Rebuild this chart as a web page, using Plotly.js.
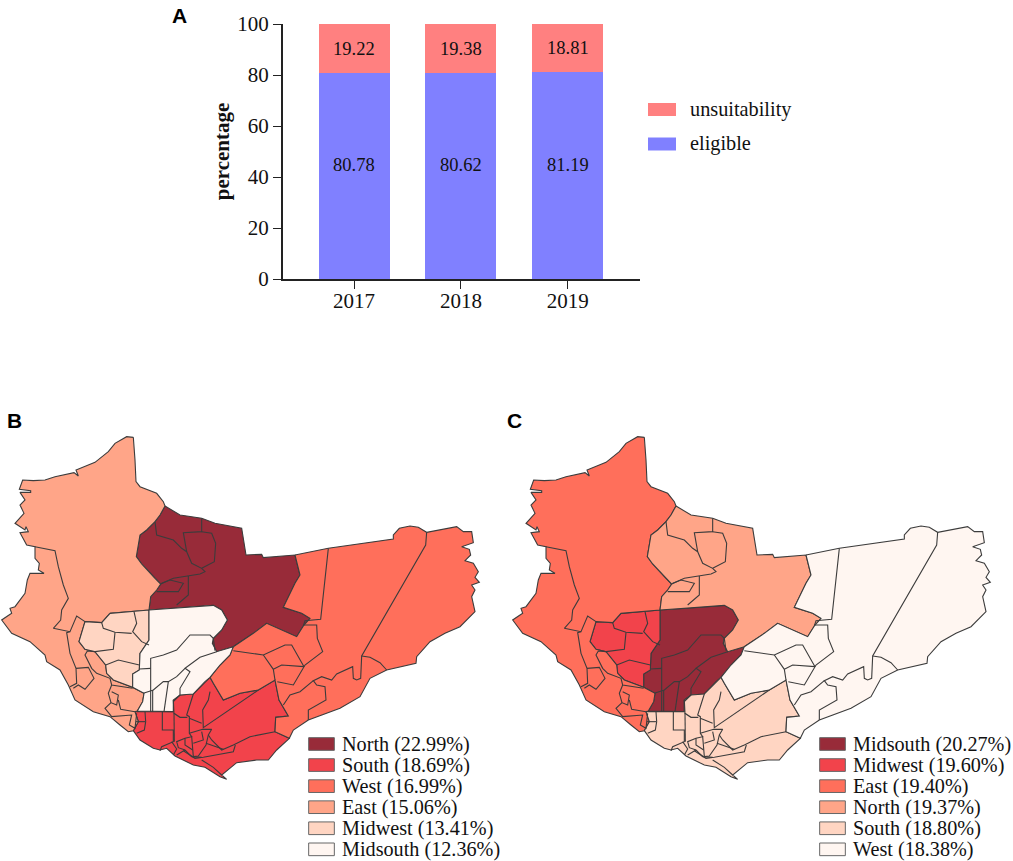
<!DOCTYPE html>
<html><head><meta charset="utf-8">
<script src="https://cdn.plot.ly/plotly-3.0.1.min.js"></script>
<style>html,body{margin:0;padding:0;background:#fff}</style></head>
<body><div id="chart" style="width:1013px;height:861px"></div>
<script>
// Panel A values
const years = ['2017','2018','2019'];
const eligible = [80.78,80.62,81.19];
const unsuitability = [19.22,19.38,18.81];

// Panels B, C labels, read from their legends
const labelsB = ['North (22.99%)','South (18.69%)','West (16.99%)','East (15.06%)','Midwest (13.41%)','Midsouth (12.36%)'];
const labelsC = ['Midsouth (20.27%)','Midwest (19.60%)','East (19.40%)','North (19.37%)','South (18.80%)','West (18.38%)'];
const ramp = ['#982B39','#F2434B','#FF6F5B','#FFA588','#FFD5C2','#FFF6F1'];
const orderB = ['north','south','west','east','midwest','midsouth'];
const orderC = ['midsouth','midwest','east','north','south','west'];

// Map outlines (traced map units)
const eastOutline = [[400,52],[380,50],[345,70],[325,95],[285,127],[228,150],[235,168],[222,158],[165,170],[135,180],[100,182],[68,180],[58,208],[92,212],[92,217],[60,217],[75,240],[60,255],[72,280],[62,290],[45,310],[75,330],[78,320],[85,335],[60,338],[80,375],[105,380],[105,415],[118,430],[115,450],[132,460],[90,460],[82,480],[75,520],[60,540],[45,560],[30,565],[35,580],[5,600],[35,640],[90,665],[135,705],[140,725],[180,750],[205,795],[225,840],[280,875],[330,890],[360,915],[385,935],[400,932],[415,905],[405,875],[412,873],[428,845],[432,820],[398,802],[340,780],[320,760],[317,735],[285,695],[255,688],[237,665],[255,605],[305,608],[330,580],[447,570],[452,530],[470,510],[482,492],[465,475],[440,450],[425,432],[409,410],[415,375],[420,345],[440,330],[465,305],[480,285],[495,258],[490,245],[470,220],[420,200],[408,185],[405,120]];
const northOutline = [[495,258],[540,285],[605,295],[645,310],[725,325],[738,405],[785,403],[790,413],[885,405],[900,465],[885,490],[850,562],[905,580],[930,595],[910,618],[890,650],[800,610],[760,640],[700,680],[650,695],[637,670],[640,655],[665,630],[682,600],[665,570],[640,556],[520,565],[447,570],[452,530],[470,510],[482,492],[465,475],[440,450],[425,432],[409,410],[415,375],[420,345],[440,330],[465,305],[480,285]];
const midwestOutline = [[330,580],[447,570],[447,660],[420,700],[418,750],[398,762],[398,802],[340,780],[320,760],[317,735],[285,695],[255,688],[237,665],[255,605],[305,608]];
const midsouthOutline = [[447,570],[520,565],[640,556],[665,570],[682,600],[665,630],[640,655],[637,670],[650,695],[700,680],[690,705],[660,735],[630,772],[615,785],[580,822],[540,825],[520,840],[520,875],[412,873],[428,845],[432,820],[398,802],[398,762],[418,750],[420,700],[447,660]];
const southOutline = [[405,875],[520,875],[520,840],[540,825],[580,822],[615,785],[630,772],[640,790],[670,840],[720,820],[775,810],[825,780],[837,840],[865,888],[827,892],[825,935],[868,955],[830,990],[805,1020],[770,1020],[710,1028],[665,1065],[680,1078],[660,1070],[615,1042],[580,1035],[525,1008],[500,985],[480,990],[460,985],[420,960],[400,932],[415,905]];
const westOutline = [[885,405],[985,385],[1180,357],[1180,345],[1198,325],[1230,318],[1255,322],[1280,337],[1370,320],[1390,335],[1415,335],[1420,368],[1385,380],[1408,388],[1412,405],[1395,422],[1420,430],[1435,455],[1425,472],[1438,487],[1415,495],[1425,510],[1415,530],[1425,575],[1380,620],[1335,640],[1290,665],[1250,710],[1248,730],[1160,750],[1110,775],[1095,805],[1080,830],[1020,865],[925,900],[880,930],[868,955],[825,935],[827,892],[865,888],[837,840],[825,780],[775,810],[720,820],[670,840],[640,790],[630,772],[660,735],[690,705],[700,680],[760,640],[800,610],[890,650],[910,618],[930,595],[905,580],[850,562],[885,490],[900,465]];

// Inner district borders (traced map units)
const eastInner = [
 [[105,380],[165,392],[175,440],[190,495],[205,535],[185,570],[182,600],[160,625],[210,635],[230,588],[255,605]],
 [[210,635],[200,638],[210,700],[228,745],[230,790],[210,800]],
 [[228,745],[265,742],[282,775],[255,808],[235,795],[220,805]],
 [[285,695],[262,693],[255,705],[275,745],[290,760],[330,775],[335,795],[398,805]],
 [[335,795],[325,820],[333,848],[350,855],[355,825],[335,815]],
 [[333,848],[315,865],[335,890],[395,885],[388,915],[405,925],[410,880]],
 [[355,840],[362,868],[405,875]]
];
const northInner = [
 [[465,305],[470,345],[520,360],[545,385],[560,395],[575,430],[605,445],[615,455],[600,462],[565,468],[520,475],[482,492]],
 [[605,295],[605,335],[550,338],[560,395]],
 [[605,335],[635,340],[647,370],[643,425],[605,445]],
 [[565,468],[565,525],[530,555]],
 [[485,490],[510,480],[550,490],[535,515],[470,515]]
];
const midwestInner = [
 [[402,575],[410,610],[398,635],[425,665],[447,675]],
 [[305,608],[310,625],[345,637],[395,640]],
 [[345,637],[340,688],[285,695]],
 [[317,735],[355,720],[418,735]]
];
const midsouthInner = [
 [[645,692],[640,655],[630,645],[570,645],[530,690],[490,705],[452,715],[452,875]],
 [[418,747],[452,745]],
 [[650,695],[600,712],[555,745],[570,755],[540,805],[540,825],[520,845]],
 [[555,745],[530,770],[505,785],[490,785],[460,810],[430,820]],
 [[505,785],[492,875]],
 [[458,810],[458,875]]
];
const southInner = [
 [[435,875],[437,905],[433,930],[410,940]],
 [[408,905],[435,905]],
 [[487,875],[487,930],[520,930],[520,965],[485,980],[480,992]],
 [[520,840],[522,880],[540,892],[562,892]],
 [[522,880],[523,965]],
 [[580,822],[560,885],[568,890],[568,940],[575,950],[555,955],[530,965],[535,983],[555,990],[575,1010],[605,1012]],
 [[630,815],[625,840],[608,870],[608,905],[610,925]],
 [[568,895],[605,910]],
 [[610,923],[775,810]],
 [[568,940],[608,928],[635,928],[625,945],[618,975],[595,1008],[580,1010],[578,985],[575,950]],
 [[605,935],[610,960],[580,970]],
 [[555,955],[555,975],[578,990]],
 [[625,945],[635,960],[665,990],[700,975],[750,950],[825,935]],
 [[618,970],[670,988]],
 [[706,975],[700,995],[610,1012],[585,1015],[550,992]],
 [[605,1020],[640,1042],[665,1065]],
 [[530,1005],[555,990]],
 [[515,965],[530,987],[520,1005]]
];
const westInner = [
 [[985,385],[962,598],[915,602],[910,618]],
 [[1280,337],[1277,375],[1085,708],[1082,775],[1070,780],[1060,775],[1058,740],[1010,762],[995,780],[965,770],[940,782],[950,795],[975,800],[978,840],[925,870],[925,900]],
 [[1085,708],[1110,712],[1140,728],[1160,750]],
 [[940,782],[900,815],[870,825],[850,855]],
 [[910,615],[950,615],[952,655],[968,695],[915,735],[880,795],[832,785]],
 [[700,692],[790,705],[855,675],[875,675],[912,740],[845,735],[820,748]],
 [[790,705],[820,748],[825,780]]
];

const regions = {
 east:{outline:eastOutline,inner:eastInner},
 north:{outline:northOutline,inner:northInner},
 midwest:{outline:midwestOutline,inner:midwestInner},
 midsouth:{outline:midsouthOutline,inner:midsouthInner},
 south:{outline:southOutline,inner:southInner},
 west:{outline:westOutline,inner:westInner}
};
const serif = 'Liberation Serif, Times New Roman, serif';
const sans = 'Liberation Sans, Arial, sans-serif';
const W = 1013, H = 861;
const edge = '#3c3c3c';

const traces = [
 {type:'bar',name:'eligible',x:years,y:eligible,width:0.664,marker:{color:'#8080FF',line:{width:0}},hoverinfo:'x+y'},
 {type:'bar',name:'unsuitability',x:years,y:unsuitability,width:0.664,marker:{color:'#FF8080',line:{width:0}},hoverinfo:'x+y'}
];
const shapes = [], annotations = [];

function panel(order, labels, xa, ya){
  order.forEach((key,i)=>{
    const r = regions[key];
    const pts = r.outline.concat([r.outline[0]]);
    traces.push({type:'scatter',mode:'lines',name:labels[i],xaxis:xa,yaxis:ya,
      x:pts.map(p=>p[0]),y:pts.map(p=>p[1]),fill:'toself',fillcolor:ramp[i],
      line:{color:edge,width:1.1},hoverinfo:'name',showlegend:false});
  });
  order.forEach((key,i)=>{
    const xs=[],ys=[];
    regions[key].inner.forEach(l=>{l.forEach(p=>{xs.push(p[0]);ys.push(p[1]);});xs.push(null);ys.push(null);});
    traces.push({type:'scatter',mode:'lines',xaxis:xa,yaxis:ya,x:xs,y:ys,
      line:{color:edge,width:1.1},hoverinfo:'skip',showlegend:false});
  });
  labels.forEach((t,i)=>{
    const yc = 972+63.2*i;
    shapes.push({type:'rect',xref:xa,yref:ya,x0:926,x1:1003,y0:yc-19,y1:yc+19,fillcolor:ramp[i],line:{color:'#666',width:1}});
    annotations.push({xref:xa,yref:ya,x:1021,y:yc,text:t,showarrow:false,xanchor:'left',yanchor:'middle',font:{family:serif,size:20.2,color:'#111'}});
  });
}
panel(orderB,labelsB,'x2','y2');
panel(orderC,labelsC,'x3','y3');

// Panel A value labels
years.forEach((yr,i)=>{
  annotations.push({xref:'x',yref:'y',x:i,y:eligible[i]+unsuitability[i]/2,text:unsuitability[i].toFixed(2),showarrow:false,font:{family:serif,size:18.5,color:'#111'}});
  annotations.push({xref:'x',yref:'y',x:i,y:44.7,text:eligible[i].toFixed(2),showarrow:false,font:{family:serif,size:18.5,color:'#111'}});
});
// Panel A legend
[['unsuitability','#FF8080',109.5],['eligible','#8080FF',144]].forEach(([t,c,py])=>{
  shapes.push({type:'rect',xref:'paper',yref:'paper',x0:648/W,x1:676/W,y0:1-(py-6.5)/H,y1:1-(py+6.5)/H,fillcolor:c,line:{width:0}});
  annotations.push({xref:'paper',yref:'paper',x:688/W,y:1-py/H,text:t,showarrow:false,xanchor:'left',yanchor:'middle',font:{family:serif,size:20.3,color:'#111'}});
});
// Panel letters
[['A',179,16],['B',14,420],['C',514,420]].forEach(([t,px,py])=>{
  annotations.push({xref:'paper',yref:'paper',x:px/W,y:1-py/H,text:'<b>'+t+'</b>',showarrow:false,xanchor:'center',yanchor:'middle',font:{family:sans,size:21,color:'#000'}});
});

const mapAxis = {visible:false,fixedrange:true};
const layout = {
  width:W,height:H,margin:{l:0,r:0,t:0,b:0},paper_bgcolor:'#fff',plot_bgcolor:'rgba(0,0,0,0)',
  barmode:'stack',showlegend:false,shapes,annotations,
  font:{family:serif,color:'#111'},
  xaxis:{type:'category',domain:[282.7/W,640/W],range:[-0.667,2.675],anchor:'y',showgrid:false,zeroline:false,
    showline:true,linecolor:'#222',linewidth:1.6,ticks:'outside',ticklen:8,tickwidth:1.4,tickcolor:'#222',
    ticklabelstandoff:-6,tickfont:{family:serif,size:21,color:'#111'}},
  yaxis:{domain:[1-279/H,1-24/H],range:[0,100],anchor:'x',showgrid:false,zeroline:false,dtick:20,
    showline:true,linecolor:'#222',linewidth:1.6,ticks:'outside',ticklen:8,tickwidth:1.4,tickcolor:'#222',
    tickfont:{family:serif,size:21,color:'#111'},
    title:{text:'<b>percentage</b>',standoff:2,font:{family:serif,size:21,color:'#111'}}},
  xaxis2:Object.assign({},mapAxis,{domain:[0,500/W],range:[0,1500],anchor:'y2'}),
  yaxis2:Object.assign({},mapAxis,{domain:[1-860/H,1-420/H],range:[1320,0],anchor:'x2'}),
  xaxis3:Object.assign({},mapAxis,{domain:[511/W,1],range:[0,1506],anchor:'y3'}),
  yaxis3:Object.assign({},mapAxis,{domain:[1-860/H,1-420/H],range:[1320,0],anchor:'x3'})
};
Plotly.newPlot('chart',traces,layout,{displayModeBar:false,responsive:false});
</script></body></html>
